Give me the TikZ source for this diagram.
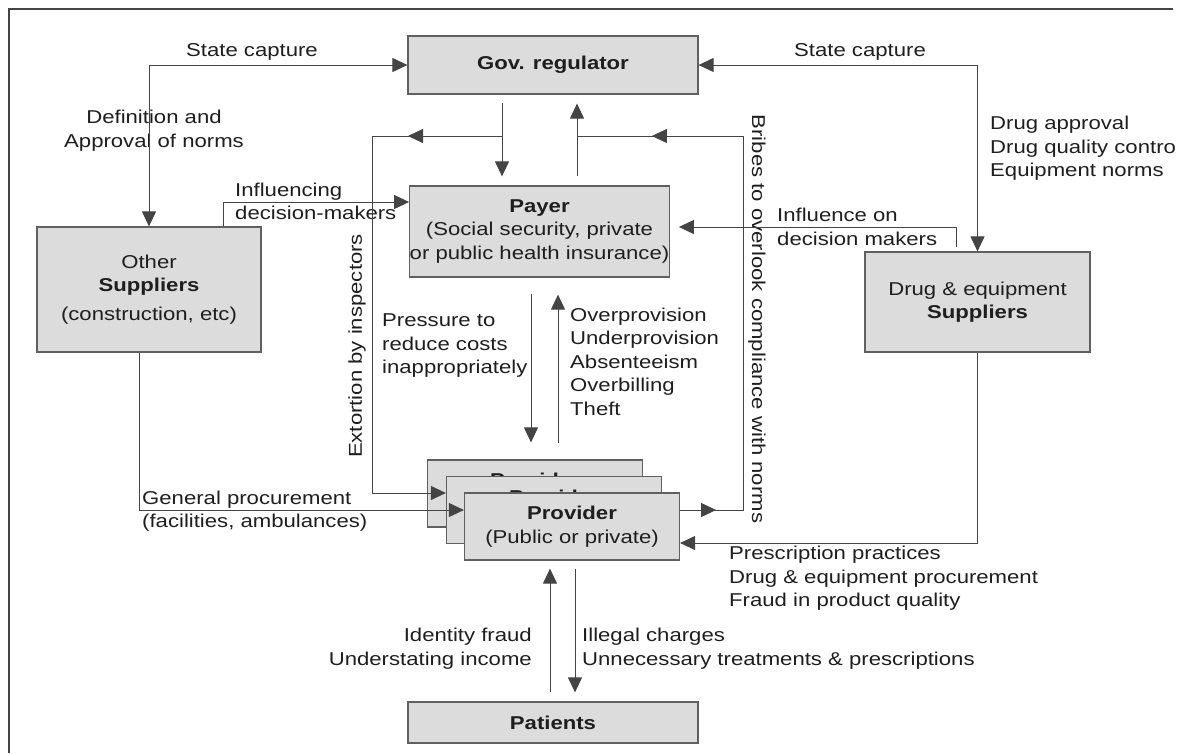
\documentclass[tikz,border=0pt]{standalone}
\usepackage{fontspec}
\setmainfont[FakeStretch=1.19]{Liberation Sans}
\usetikzlibrary{arrows.meta,decorations.markings,calc}
\definecolor{boxgray}{HTML}{DCDCDC}
\definecolor{linegray}{HTML}{444444}
\definecolor{inkgray}{HTML}{1E1E1E}

\begin{document}
\begin{tikzpicture}[
  x=1pt, y=-1pt,
  >={Triangle[length=15pt,width=14pt]},
  every node/.style={text=inkgray, font=\fontsize{18.6}{23.5}\selectfont, inner sep=0pt},
  box/.style={draw=linegray!85, fill=boxgray, line width=1.2pt, align=center},
  provbox/.style={box, minimum width=215pt, minimum height=67pt},
  note/.style={align=left, anchor=west},
  conn/.style={draw, color=linegray, line width=1pt},
  arr/.style={conn, ->},
  dblarr/.style={conn, <->},
  midmark/.style={postaction={decorate},
    decoration={markings, mark=at position #1 with {\arrow{>}}}},
  midmarks/.style n args={2}{postaction={decorate},
    decoration={markings, mark=at position #1 with {\arrow{>}},
                          mark=at position #2 with {\arrow{>}}}},
  frame/.style={draw=linegray, line width=1.2pt}
]
\useasboundingbox (0,0) rectangle (1187,753);
\clip (0,0) rectangle (1174,753);
\draw[frame] (9,753) -- (9,9) -- (1173,9);

% Boxes
\node[box, minimum width=290pt, minimum height=58pt] (gov) at (553,65) {\textbf{Gov. regulator}};
\node[box, minimum width=243pt, minimum height=91pt] (payer) at (539.5,231.5)
  {\textbf{Payer}\\(Social security, private\\or public health insurance)};
\node[box, minimum width=224pt, minimum height=125pt] (other) at (149,289.5)
  {Other\\\textbf{Suppliers}\\[5pt](construction, etc)};
\node[box, minimum width=225pt, minimum height=100pt] (drug) at (977.5,302)
  {Drug \& equipment\\\textbf{Suppliers}};

% Provider stack, back to front
\coordinate (pc) at (572,526.5);
\node[provbox] (provback) at ($(pc)+(-37,-33)$) {\textbf{Provider}\\(Public or private)};
\node[provbox] (provmid) at ($(pc)+(-18,-16.5)$) {\textbf{Provider}\\(Public or private)};
\node[provbox] (prov) at (pc) {\textbf{Provider}\\(Public or private)};

\node[box, minimum width=290pt, minimum height=41pt] (patients) at (553,722.5) {\textbf{Patients}};

% Labels
\node (capl) at (252,52) {State capture};
\node (capr) at (860,52) {State capture};
\node[align=center] (norms) at (154,130.5) {Definition and\\Approval of norms};
\node[note] (drugnorms) at (990,148.5) {Drug approval\\Drug quality control\\Equipment norms};
\node[note] (inflpayer) at (235,201.5) {Influencing\\decision-makers};
\node[note] (infldrug) at (777,227) {Influence on\\decision makers};
\node[rotate=90] (extortion) at (357,346) {Extortion by inspectors};
\node[rotate=-90] (bribes) at (757,319) {Bribes to overlook compliance with norms};
\node[note] (pressure) at (382,346) {Pressure to\\reduce costs\\inappropriately};
\node[note] (overprov) at (570,361.5) {Overprovision\\Underprovision\\Absenteeism\\Overbilling\\Theft};
\node[note] (genproc) at (142,511) {General procurement\\(facilities, ambulances)};
\node[note] (prescr) at (729,578.5) {Prescription practices\\Drug \& equipment procurement\\Fraud in product quality};
\node[align=right, anchor=east] (identity) at (532,648.5) {Identity fraud\\Understating income};
\node[note] (illegal) at (582,648.5) {Illegal charges\\Unnecessary treatments \& prescriptions};

% Junctions
\coordinate (xa) at (502,136);
\coordinate (xb) at (577,136);
\coordinate (ext) at (372,493);
\coordinate (brb) at (743,510);
\coordinate (inf) at (223,202);
\coordinate (infd) at (956,227);
\coordinate (gp) at (139,510);
\coordinate (dp) at (977.5,543);
\coordinate (pd) at (531,0);
\coordinate (pu) at (558,0);
\coordinate (pa) at (550,0);
\coordinate (pb) at (575,0);

% Arrows
\draw[dblarr] (other.north) |- (gov.west);
\draw[dblarr] (drug.north) |- (gov.east);
\draw[arr] (other.north -| inf) |- (payer.west |- inf);
\draw[arr, shorten <=4pt, shorten >=9pt] (drug.north -| infd) |- (payer.east |- infd);
\draw[arr, shorten <=8pt, shorten >=9pt] (gov.south -| xa) -- (payer.north -| xa);
\draw[arr, shorten <=9pt, shorten >=9pt] (payer.north -| xb) -- (gov.south -| xb);
\draw[arr, midmark=94pt] (xa) -| (ext) -- (provmid.west |- ext);
\draw[conn, midmarks={36pt}{528pt}] (prov.east |- brb) -- (brb) |- (xb);
\draw[arr, shorten <=16pt, shorten >=17pt] (payer.south -| pd) -- (provback.north -| pd);
\draw[arr, shorten <=16pt, shorten >=17pt] (provback.north -| pu) -- (payer.south -| pu);
\draw[arr] (other.south -| gp) |- (prov.west |- gp);
\draw[arr] (drug.south) |- (prov.east |- dp);
\draw[arr, shorten <=9pt, shorten >=8pt] (patients.north -| pa) -- (prov.south -| pa);
\draw[arr, shorten <=8pt, shorten >=9pt] (prov.south -| pb) -- (patients.north -| pb);
\end{tikzpicture}
\end{document}
